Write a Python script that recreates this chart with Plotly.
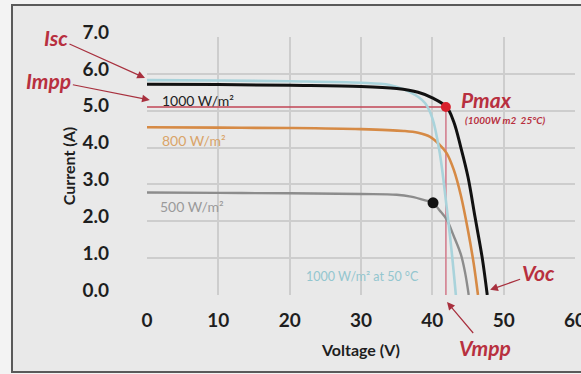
import plotly.graph_objects as go

# ---- data ----
v_1000 = [0, 10, 20, 30, 35, 38, 40, 42, 43, 44, 45, 46, 47, 47.7]
i_1000 = [5.72, 5.71, 5.69, 5.66, 5.6, 5.5, 5.35, 5.1, 4.7, 4.0, 3.2, 2.1, 1.0, 0.0]

v_50c = [0, 10, 20, 30, 34, 36, 38, 39, 40, 41, 42, 42.7, 43.3]
i_50c = [5.83, 5.82, 5.8, 5.76, 5.7, 5.58, 5.38, 5.2, 4.8, 3.9, 2.4, 1.2, 0.0]

v_800 = [0, 10, 20, 30, 36, 38, 39.7, 41, 42, 43, 44, 45, 45.8, 46.4]
i_800 = [4.55, 4.54, 4.53, 4.5, 4.45, 4.4, 4.29, 4.08, 3.85, 3.4, 2.7, 1.75, 0.85, 0.0]

v_500 = [0, 10, 20, 30, 35, 37, 39, 40.1, 41, 42, 43, 44, 44.6, 45.1]
i_500 = [2.78, 2.77, 2.76, 2.74, 2.72, 2.67, 2.57, 2.5, 2.3, 2.05, 1.6, 1.1, 0.6, 0.0]

v_mpp = 41.9
i_mpp = 5.1
pmax_500 = (40.1, 2.5)

x_ticks = [0, 10, 20, 30, 40, 50, 60]
y_ticks = [0, 1, 2, 3, 4, 5, 6, 7]
y_tick_text = ["0.0", "1.0", "2.0", "3.0", "4.0", "5.0", "6.0", "7.0"]

RED = "#b8303f"
FONT = "Lato"
PW, PH = 428, 258  # plot area size in px

fig = go.Figure()

# Impp / Vmpp guide lines
fig.add_trace(go.Scatter(x=[0, v_mpp], y=[i_mpp, i_mpp], mode="lines",
                         line=dict(color="#c04454", width=1.6), hoverinfo="skip"))
fig.add_trace(go.Scatter(x=[v_mpp, v_mpp], y=[i_mpp, 0], mode="lines",
                         line=dict(color="#d58a98", width=1.8), hoverinfo="skip"))

# curves
fig.add_trace(go.Scatter(x=v_500, y=i_500, mode="lines", line=dict(color="#8c8c8c", width=2.4, shape="spline")))
fig.add_trace(go.Scatter(x=v_800, y=i_800, mode="lines", line=dict(color="#d68a45", width=2.6, shape="spline")))
fig.add_trace(go.Scatter(x=v_50c, y=i_50c, mode="lines", line=dict(color="#a9d3db", width=2.6, shape="spline")))
fig.add_trace(go.Scatter(x=v_1000, y=i_1000, mode="lines", line=dict(color="#111111", width=3, shape="spline")))

# markers
fig.add_trace(go.Scatter(x=[v_mpp], y=[i_mpp], mode="markers",
                         marker=dict(color="#d8202c", size=10)))
fig.add_trace(go.Scatter(x=[pmax_500[0]], y=[pmax_500[1]], mode="markers",
                         marker=dict(color="#111111", size=11)))

ann = []
def label(text, x, y, color, size, bold=False, italic=False):
    ann.append(dict(text=text, x=x, y=y, xref="x", yref="y", showarrow=False,
                    xanchor="left", yanchor="middle", borderpad=0,
                    font=dict(family=FONT, size=size, color=color,
                              weight="bold" if bold else "normal",
                              style="italic" if italic else "normal")))

label("1000 W/m²", 2.0, 5.29, "#222222", 14)
label("800 W/m²", 2.0, 4.2, "#d9a468", 14)
label("500 W/m²", 1.7, 2.39, "#9a9a9a", 14)
label("1000 W/m² at 50 °C", 22.1, 0.49, "#93c6cf", 12.5)
label("Pmax", 43.9, 5.3, RED, 21, bold=True, italic=True)
label("(1000W m2  25°C)", 44.5, 4.76, RED, 10, bold=True, italic=True)

def arrow(text, x, y, ax, ay, xref="x", yref="y"):
    ann.append(dict(text=text, x=x, y=y, xref=xref, yref=yref, ax=ax, ay=ay,
                    showarrow=True, arrowhead=2, arrowsize=1.3, arrowwidth=1.2,
                    arrowcolor="#a8303e",
                    font=dict(family=FONT, size=21, color=RED, weight="bold", style="italic")))

arrow("Isc", -2 / PW, (295 - 78) / PH, -89, -40, xref="paper", yref="paper")
arrow("Impp", 0.4, 5.29, -101, -20)
arrow("Voc", 48.1, 0.14, 48, -17)
arrow("Vmpp", 42.06 / 60, -7 / PH, 38, 45, xref="paper", yref="paper")

fig.update_layout(
    width=581, height=374,
    margin=dict(l=147, r=6, t=37, b=79),
    paper_bgcolor="#f3f3f3",
    plot_bgcolor="#ebebeb",
    showlegend=False,
    annotations=ann,
    shapes=[dict(type="rect", xref="paper", yref="paper",
                 x0=-135 / PW, x1=1.1, y0=1 + 32 / PH, y1=-77 / PH,
                 line=dict(color="#5a5a5a", width=2), fillcolor="#e9e9e9",
                 layer="below")],
    font=dict(family=FONT),
)
fig.update_xaxes(range=[0, 60], tickvals=x_ticks, showgrid=True, gridcolor="#cdcdcd",
                 gridwidth=1.5, zeroline=False, showline=False, ticks="", automargin=False,
                 tickfont=dict(family=FONT, size=19, color="#1e1e1e", weight="bold"),
                 ticklabelstandoff=12, ticklabeloverflow="allow",
                 title=dict(text="Voltage (V)", standoff=14,
                            font=dict(family=FONT, size=16, color="#1e1e1e", weight="bold")))
fig.update_yaxes(range=[0, 7], tickvals=y_ticks, ticktext=y_tick_text, showgrid=True,
                 gridcolor="#cdcdcd", gridwidth=1.5, zeroline=False, showline=False, ticks="",
                 automargin=False,
                 tickfont=dict(family=FONT, size=19, color="#1e1e1e", weight="bold"),
                 ticklabelstandoff=37, ticklabelshift=-5, ticklabeloverflow="allow",
                 title=dict(text="Current (A)", standoff=2,
                            font=dict(family=FONT, size=16, color="#1e1e1e", weight="bold")))

fig.write_html("out.html", config={"displayModeBar": False},
               post_script="document.body.style.margin='0';")
